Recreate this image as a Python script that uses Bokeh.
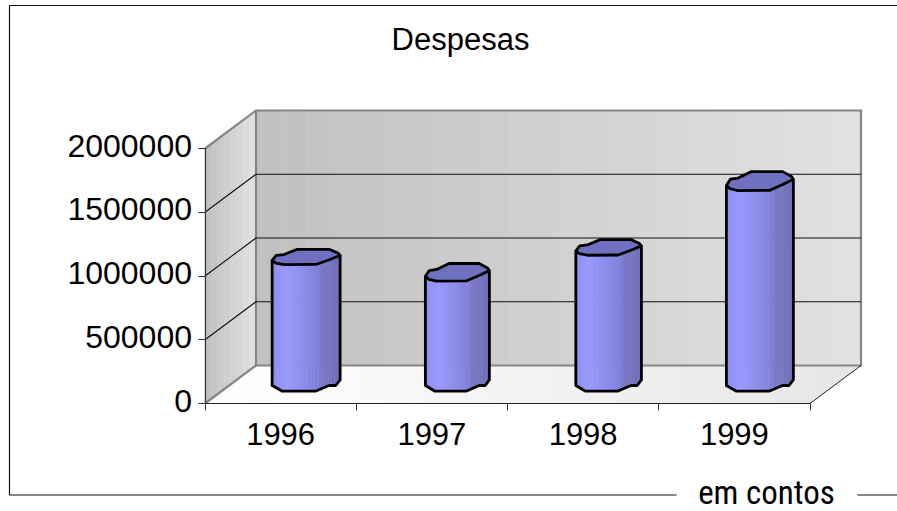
import numpy as np
from bokeh.plotting import figure
from bokeh.models import Range1d, FixedTicker, LinearAxis
from bokeh.core.properties import value
from bokeh.embed import file_html
from bokeh.resources import INLINE

# ---- data ----
title_text = "Despesas"
unit_text = "em contos"
categories = ["1996", "1997", "1998", "1999"]
despesas = [1000000, 880000, 1075000, 1595000]
value_ticks = [0, 500000, 1000000, 1500000, 2000000]

# ---- layout ----
W, H = 897, 511
X0, CAT_PX = 204.5, 151.25
Y0, VAL_PER_PX = 403.0, 2000000 / 255.0
DX = 51.0 / CAT_PX
DY = 38.0 * VAL_PER_PX
px = lambda x: (np.asarray(x, float) - X0) / CAT_PX
py = lambda y: (Y0 - np.asarray(y, float)) * VAL_PER_PX
VMAX = value_ticks[-1]
NCAT = len(categories)

p = figure(width=W, height=H, output_backend="svg", toolbar_location=None,
           x_range=Range1d(float(px(0)), float(px(W))),
           y_range=Range1d(float(py(H)), float(py(0))),
           min_border=0, outline_line_color=None, tools="",
           x_axis_type=None, y_axis_type=None)
p.grid.visible = False


def hexc(a, b, t):
    ca = [int(a[i:i + 2], 16) for i in (1, 3, 5)]
    cb = [int(b[i:i + 2], 16) for i in (1, 3, 5)]
    return "#%02x%02x%02x" % tuple(int(round(x + (y - x) * t)) for x, y in zip(ca, cb))


def strips(xs, ys, cs):
    p.patches(xs, ys, fill_color=cs, line_color=cs, line_width=0.6)


# back wall
n = 24
e = np.linspace(0, NCAT, n + 1)
strips([[e[i] + DX, e[i + 1] + DX, e[i + 1] + DX, e[i] + DX] for i in range(n)],
       [[DY, DY, DY + VMAX, DY + VMAX] for i in range(n)],
       [hexc("#c0c0c0", "#e2e2e2", (i + .5) / n) for i in range(n)])
# side wall
n = 8
e = np.linspace(0, 1, n + 1)
strips([[e[i] * DX, e[i + 1] * DX, e[i + 1] * DX, e[i] * DX] for i in range(n)],
       [[e[i] * DY, e[i + 1] * DY, e[i + 1] * DY + VMAX, e[i] * DY + VMAX] for i in range(n)],
       [hexc("#c0c0c0", "#e2e2e2", (i + .5) / n) for i in range(n)])
# floor
n = 30
e = np.linspace(0, NCAT + DX, n + 1)
top = lambda c: np.minimum(DY, c / DX * DY)
bot = lambda c: np.maximum(0, (c - NCAT) / DX * DY)
fx, fy, fc = [], [], []
for i in range(n):
    a, b = e[i], e[i + 1]
    brk = [k for k in (DX, NCAT) if a < k < b]
    cx = [a] + brk + [b]
    fx.append(cx + cx[::-1])
    fy.append([float(top(c)) for c in cx] + [float(bot(c)) for c in cx[::-1]])
    fc.append(hexc("#ffffff", "#e6e6e6", (i + .5) / n))
strips(fx, fy, fc)

# wall edges
grey = "#858585"
p.line([0, DX, NCAT + DX, NCAT + DX, DX, DX], [VMAX, DY + VMAX, DY + VMAX, DY, DY, DY + VMAX],
       line_color=grey, line_width=2.2, line_join="miter")
p.line([0, DX], [0, DY], line_color=grey, line_width=2.2)
p.line([NCAT, NCAT + DX], [0, DY], line_color="#222222", line_width=1)

# gridlines
for v in value_ticks[1:-1]:
    p.line([0, DX, NCAT + DX], [v, v + DY, v + DY], line_color="#111111", line_width=1.1)

# cylinders
OUT_U = [-1.0, -.88, -.65, -.26, .68, .94, 1.0, .68, .29, -.65, -.89]
OUT_V = [-.45, .2, .32, 1.0, 1.0, .5, .2, -.36, -.97, -1.0, -.8]
LOW_U = [-1.0, -.89, -.65, .29, .68, 1.0]
LOW_V = [-.45, -.8, -1.0, -.97, -.36, .2]
BASE_U = [-1.0, -.7, .27, .68, .87, 1.0]
BASE_PX = [-1.0, -6.7, -6.7, -1.0, -1.0, 4.7]
half_w = [34.0, 32.0, 32.8, 33.5]
half_h = [7.7, 8.8, 7.8, 9.5]
STOP_U = [-1.0, -.6, -.2, .1, .44, .46, .7, 1.0]
STOP_C = ["#8c8cf0", "#9999ff", "#9090f0", "#8888e2", "#7e7ed4", "#7878c8", "#7676c2", "#6e6eb6"]


def ramp(u):
    j = min(np.searchsorted(STOP_U, u, side="right") - 1, len(STOP_U) - 2)
    return hexc(STOP_C[j], STOP_C[j + 1], (u - STOP_U[j]) / (STOP_U[j + 1] - STOP_U[j]))


for i, v in enumerate(despesas):
    cx = i + 0.5 + DX / 2
    cy0 = DY / 2
    hw = half_w[i] / CAT_PX
    hh = half_h[i] * VAL_PER_PX
    ue = np.linspace(-1, 1, 25)
    tf = lambda u: cy0 + v + np.interp(u, LOW_U, LOW_V) * hh
    bf = lambda u: cy0 + np.interp(u, BASE_U, BASE_PX) * VAL_PER_PX
    sx, sy, sc = [], [], []
    for a, b in zip(ue[:-1], ue[1:]):
        sx.append([cx + a * hw, cx + b * hw, cx + b * hw, cx + a * hw])
        sy.append([float(tf(a)), float(tf(b)), float(bf(b)), float(bf(a))])
        sc.append(ramp((a + b) / 2))
    strips(sx, sy, sc)
    sil_x = [cx - hw] + [cx + u * hw for u in BASE_U] + [cx + hw]
    sil_y = [cy0 + v + LOW_V[0] * hh] + [float(bf(u)) for u in BASE_U] + [cy0 + v + OUT_V[6] * hh]
    p.line(sil_x, sil_y, line_color="black", line_width=2.8, line_join="round")
    p.patch([cx + u * hw for u in OUT_U], [cy0 + v + w * hh for w in OUT_V],
            fill_color="#7070c0", line_color="black", line_width=2.8, line_join="round")

# axes: real Bokeh axes fixed at the chart's front edge
yax = LinearAxis(ticker=FixedTicker(ticks=value_ticks), fixed_location=0, bounds=(0, VMAX),
                 axis_line_color="#333333", axis_line_width=1.2,
                 major_tick_line_color="#333333", major_tick_in=0, major_tick_out=7,
                 minor_tick_line_color=None,
                 major_label_overrides={t: "" for t in value_ticks})
p.add_layout(yax, "left")
# labels sit 3px above their ticks in the reference
LIFT = 3 * VAL_PER_PX
ylab = LinearAxis(ticker=FixedTicker(ticks=[t + LIFT for t in value_ticks]), fixed_location=0,
                  axis_line_color=None, major_tick_line_color=None, minor_tick_line_color=None,
                  major_tick_in=0, major_tick_out=0, major_label_standoff=13,
                  major_label_overrides={t + LIFT: str(t) for t in value_ticks},
                  major_label_text_font="Liberation Sans",
                  major_label_text_font_size="32px", major_label_text_color="black")
p.add_layout(ylab, "left")

xax = LinearAxis(ticker=FixedTicker(ticks=list(range(NCAT + 1))), fixed_location=0, bounds=(0, NCAT),
                 axis_line_color="#222222", axis_line_width=1.2,
                 major_tick_line_color="#333333", major_tick_in=0, major_tick_out=7,
                 minor_tick_line_color=None,
                 major_label_overrides={k: "" for k in range(NCAT + 1)})
p.add_layout(xax, "below")
xlab = LinearAxis(ticker=FixedTicker(ticks=[k + .5 for k in range(NCAT)]), fixed_location=0,
                  axis_line_color=None, major_tick_line_color=None, minor_tick_line_color=None,
                  major_tick_in=0, major_tick_out=0, major_label_standoff=19,
                  major_label_overrides={k + .5: c for k, c in enumerate(categories)},
                  major_label_text_font="Liberation Sans",
                  major_label_text_font_size="31px", major_label_text_color="black")
p.add_layout(xlab, "below")

# chart border
p.line(px([676, 9, 9, 897]), py([494.5, 494.5, 5, 5]), line_color="#111111", line_width=1.2)
p.line(px([857, 897]), py([494.5, 494.5]), line_color="#111111", line_width=1.2)

# texts
p.text(px([460]), py([38.5]), text=[title_text], text_font=value("Liberation Sans"), text_font_size="31px",
       text_align="center", text_baseline="middle", text_color="black")
p.text(px([766]), py([492]), text=[unit_text], text_font=value("Roboto Condensed, Liberation Sans"), text_font_size="33px",
       text_align="center", text_baseline="middle", text_color="black")

open("out.html", "w").write(file_html(p, INLINE))
